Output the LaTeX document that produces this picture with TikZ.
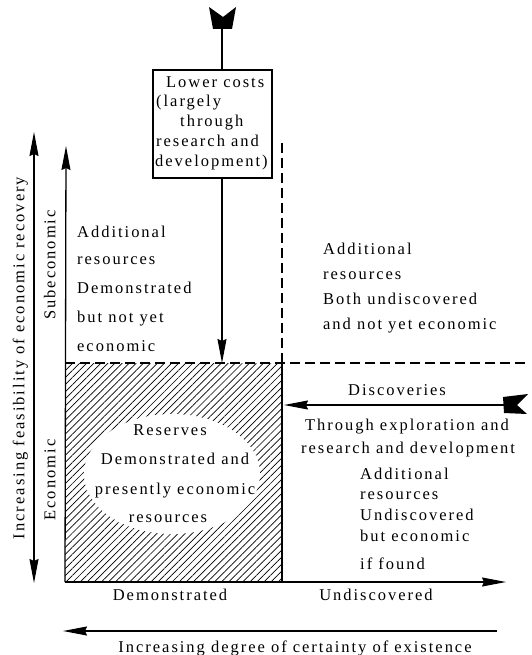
\documentclass[tikz,border=0pt]{standalone}
\usepackage{fontspec}
\setmainfont{Liberation Serif}[LetterSpace=12]
\usetikzlibrary{arrows.meta,patterns.meta}
\begin{document}
\begin{tikzpicture}[x=1pt,y=-1pt,
  txt/.style={font=\fontsize{16.5}{19}\selectfont, inner sep=0pt},
  tw/.style={txt, anchor=mid west},
  tc/.style={txt, anchor=mid},
  ah/.style={-{Stealth[length=24pt,width=9pt,inset=2pt]}},
  ahboth/.style={{Stealth[length=24pt,width=9pt,inset=2pt]}-{Stealth[length=24pt,width=9pt,inset=2pt]}},
  axisline/.style={line width=1.3pt},
  dsh/.style={line width=1.1pt, dash pattern=on 10pt off 5pt}]
\useasboundingbox (0,0) rectangle (532,655);

% coordinates
\coordinate (origin) at (65,582);
\coordinate (itop) at (66,146);
\coordinate (xend) at (506,582);
\coordinate (otop) at (34,132);
\coordinate (obot) at (34,583);
\coordinate (bR) at (497,631);
\coordinate (bL) at (63,631);
\coordinate (htl) at (65,363);
\coordinate (hbr) at (282,582);
\coordinate (hline) at (526,363);
\coordinate (vtop) at (282,143);
\coordinate (vbot) at (282,363);
\coordinate (mk) at (222,29);
\coordinate (flag) at (504,405);
\coordinate (disctip) at (284,405);

% hatched reserves area
\fill[pattern={Lines[angle=45,distance=5pt,line width=0.7pt]}] (htl) rectangle (hbr);
\fill[white] (172,474) ellipse [x radius=88pt, y radius=60pt];
\draw[axisline] (hbr |- htl) -- (hbr);

% dashed boundaries
\draw[dsh] (htl) -- (hline);
\draw[dsh] (vtop) -- (vbot);

% axes
\draw[axisline,ah] (origin) -- (itop);
\draw[axisline,ah] (origin) -- (xend);
\draw[axisline,ahboth] (obot) -- (otop);
\draw[axisline,ah] (bR) -- (bL);

% lower costs box and arrow
\node[draw, line width=1.2pt, minimum width=119pt, minimum height=108pt, inner sep=0pt] (box) at (212.5,124) {};
\fill (209,7) -- (223,17) -- (236,7) -- (232,29) -- (213,29) -- cycle;
\draw[axisline] (mk) -- (mk |- box.north);
\draw[axisline,ah] (mk |- box.south) -- (mk |- htl);
\node[tw] (b1) at (166,85) {Lower costs};
\node[tw] (b2) at (156,104) {(largely};
\node[tw] (b3) at (180,124) {through};
\node[tw] (b4) at (156,144) {research and};
\node[tw] (b5) at (155,164) {development)};

% discoveries arrow
\fill (503,397) -- (528,394) -- (517,405) -- (527,414) -- (504,413) -- cycle;
\draw[axisline,ah] (flag) -- (disctip);
\node[tc] (disc) at (397,393) {Discoveries};
\node[tc] (thr1) at (407,428) {Through exploration and};
\node[tc] (thr2) at (408,451) {research and development};

% left upper text
\node[tw] (lu1) at (77,235) {Additional};
\node[tw] (lu2) at (77,262) {resources};
\node[tw] (lu3) at (77,291) {Demonstrated};
\node[tw] (lu4) at (77,320) {but not yet};
\node[tw] (lu5) at (77,349) {economic};

% right upper text
\node[tw] (ru1) at (323,252) {Additional};
\node[tw] (ru2) at (323,277) {resources};
\node[tw] (ru3) at (323,302) {Both undiscovered};
\node[tw] (ru4) at (323,327) {and not yet economic};

% reserves text
\node[tc] (r1) at (170,433) {Reserves};
\node[tc] (r2) at (175,462) {Demonstrated and};
\node[tc] (r3) at (175,492) {presently economic};
\node[tc] (r4) at (168,520) {resources};

% right lower text
\node[tw] (rl1) at (360,477) {Additional};
\node[tw] (rl2) at (360,497) {resources};
\node[tw] (rl3) at (360,518) {Undiscovered};
\node[tw] (rl4) at (360,539) {but economic};
\node[tw] (rl5) at (360,567) {if found};

% axis labels
\node[tc] (xd) at (170,598) {Demonstrated};
\node[tc] (xu) at (376,598) {Undiscovered};
\node[tc] (xc) at (295,650) {Increasing degree of certainty of existence};
\node[tc, rotate=90] (yf) at (22,358) {Increasing feasibility of economic recovery};
\node[tc, rotate=90] (ys) at (53,265) {Subeconomic};
\node[tc, rotate=90] (ye) at (53,480) {Economic};
\end{tikzpicture}
\end{document}
